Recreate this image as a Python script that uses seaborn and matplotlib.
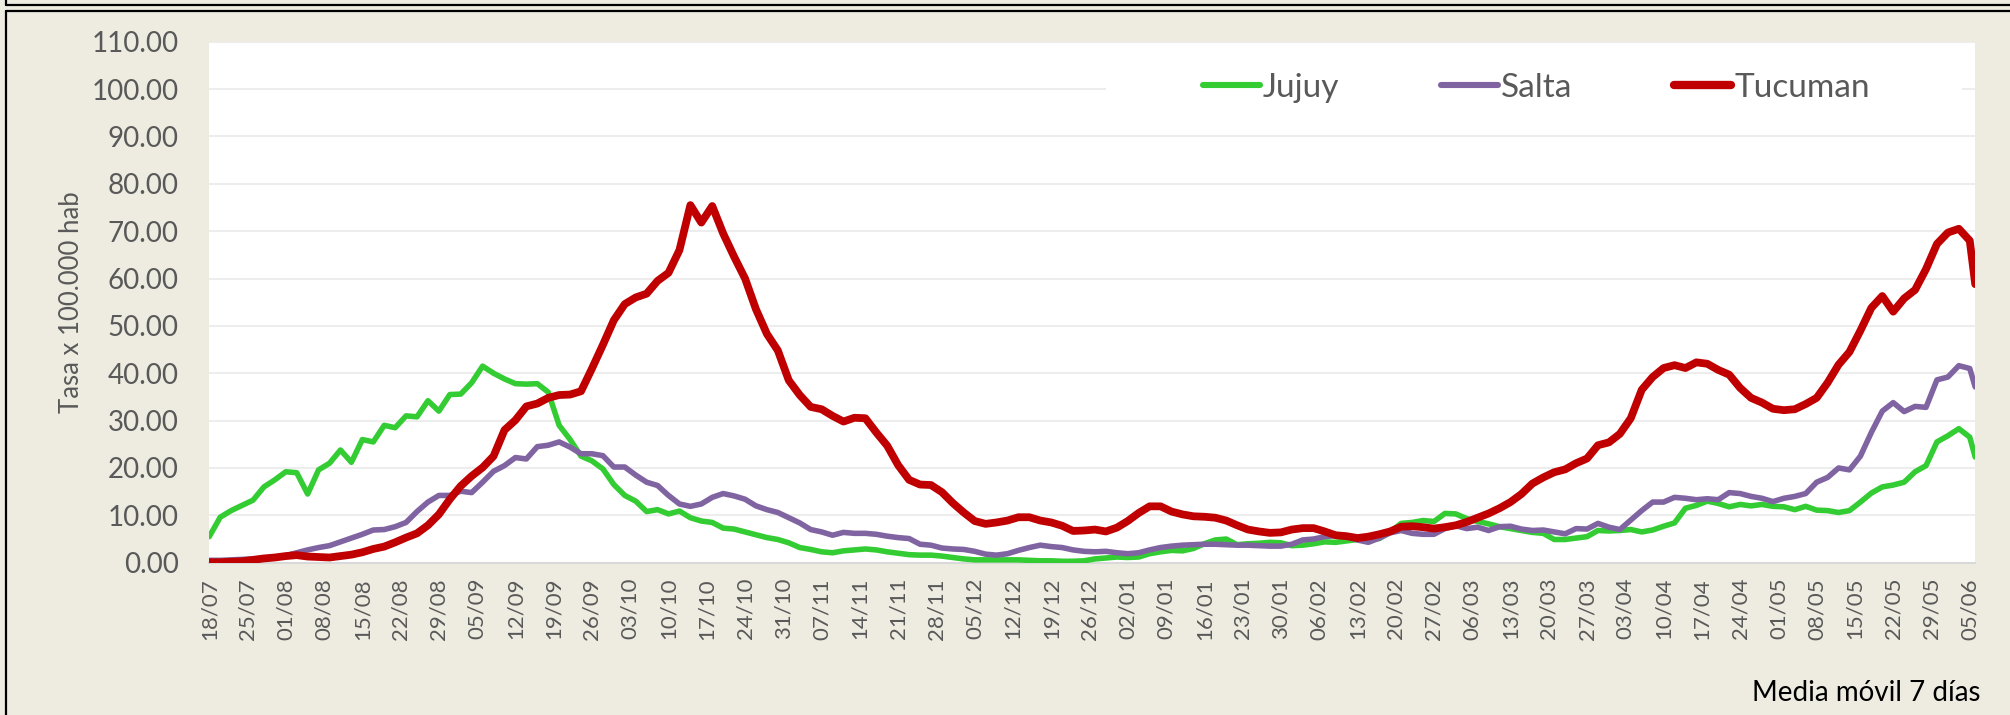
import numpy as np
import pandas as pd
import matplotlib.pyplot as plt
import matplotlib.dates as mdates
from matplotlib.lines import Line2D
from matplotlib.patches import Rectangle
from matplotlib.ticker import FormatStrFormatter
import seaborn as sns

# ---------------------------------------------------------------------
# Data: 7-day moving average, rate per 100.000 inhabitants (every 2 days)
# ---------------------------------------------------------------------
fechas = pd.date_range("2020-07-18", "2021-06-05", freq="2D").append(
    pd.DatetimeIndex(["2021-06-06"]))

jujuy = [5.5, 9.6, 11.0, 12.1, 13.2, 16.0, 17.5, 19.2, 19.0, 14.5,
         19.6, 21.0, 23.8, 21.2, 26.0, 25.5, 29.0, 28.5, 31.0, 30.8,
         34.2, 32.0, 35.5, 35.6, 38.0, 41.5, 40.0, 38.8, 37.8, 37.7,
         37.8, 36.0, 29.0, 26.0, 22.5, 21.5, 19.8, 16.5, 14.2, 13.0,
         10.8, 11.2, 10.3, 10.9, 9.5, 8.8, 8.5, 7.3, 7.1, 6.5,
         5.9, 5.3, 4.9, 4.2, 3.2, 2.8, 2.3, 2.1, 2.5, 2.7,
         2.9, 2.7, 2.3, 2.0, 1.7, 1.6, 1.6, 1.4, 1.1, 0.8,
         0.6, 0.6, 0.6, 0.6, 0.6, 0.5, 0.4, 0.4, 0.3, 0.3,
         0.4, 0.8, 1.0, 1.2, 1.1, 1.2, 1.9, 2.3, 2.6, 2.5,
         3.0, 4.0, 4.8, 5.0, 3.8, 4.0, 4.1, 4.3, 4.2, 3.6,
         3.7, 4.0, 4.4, 4.3, 4.6, 4.9, 4.8, 5.1, 6.5, 8.3,
         8.5, 8.9, 8.7, 10.4, 10.3, 9.3, 8.7, 8.2, 7.6, 7.2,
         6.8, 6.4, 6.2, 4.9, 4.9, 5.2, 5.5, 6.8, 6.7, 6.8,
         7.0, 6.5, 6.9, 7.7, 8.4, 11.5, 12.1, 13.0, 12.5, 11.8,
         12.3, 12.0, 12.3, 11.9, 11.8, 11.2, 11.9, 11.1, 11.0, 10.6,
         11.0, 12.8, 14.7, 16.0, 16.4, 17.0, 19.2, 20.5, 25.5, 26.8,
         28.3, 26.5, 22.3]

salta = [0.5, 0.5, 0.6, 0.7, 0.8, 0.8, 1.0, 1.5, 2.1, 2.7,
         3.2, 3.6, 4.4, 5.2, 6.0, 6.9, 7.0, 7.6, 8.5, 10.8,
         12.8, 14.2, 14.2, 15.1, 14.8, 17.0, 19.3, 20.5, 22.2, 21.9,
         24.5, 24.8, 25.5, 24.4, 23.0, 23.0, 22.6, 20.2, 20.2, 18.5,
         17.0, 16.3, 14.2, 12.4, 11.9, 12.4, 13.8, 14.6, 14.1, 13.4,
         12.0, 11.2, 10.6, 9.5, 8.4, 7.0, 6.5, 5.8, 6.4, 6.2,
         6.2, 6.0, 5.6, 5.3, 5.1, 3.9, 3.7, 3.1, 2.9, 2.8,
         2.4, 1.8, 1.6, 1.9, 2.6, 3.2, 3.7, 3.4, 3.2, 2.7,
         2.4, 2.3, 2.4, 2.1, 1.9, 2.1, 2.7, 3.2, 3.5, 3.7,
         3.8, 3.9, 3.9, 3.8, 3.7, 3.7, 3.6, 3.5, 3.5, 3.9,
         4.8, 5.0, 5.5, 5.7, 5.5, 4.8, 4.3, 5.2, 6.3, 6.8,
         6.2, 6.0, 6.0, 7.2, 7.8, 7.2, 7.5, 6.8, 7.6, 7.7,
         7.1, 6.8, 6.9, 6.5, 6.1, 7.2, 7.1, 8.3, 7.5, 7.0,
         9.0, 11.0, 12.8, 12.8, 13.8, 13.6, 13.3, 13.5, 13.3, 14.8,
         14.6, 14.0, 13.6, 12.9, 13.6, 14.0, 14.6, 17.0, 18.0, 20.0,
         19.6, 22.5, 27.5, 32.0, 33.8, 31.9, 33.0, 32.8, 38.6, 39.2,
         41.6, 41.0, 37.1]

tucuman = [0.1, 0.1, 0.2, 0.3, 0.6, 0.9, 1.1, 1.4, 1.6, 1.3,
           1.2, 1.1, 1.4, 1.7, 2.2, 2.9, 3.4, 4.3, 5.3, 6.2,
           7.9, 10.2, 13.4, 16.2, 18.3, 20.1, 22.5, 28.0, 30.1, 33.0,
           33.6, 34.8, 35.4, 35.5, 36.2, 41.0, 46.0, 51.2, 54.6, 56.0,
           56.8, 59.5, 61.2, 66.0, 75.5, 71.8, 75.3, 69.5, 64.6, 60.0,
           53.5, 48.3, 44.8, 38.5, 35.4, 32.9, 32.4, 31.0, 29.8, 30.6,
           30.5, 27.5, 24.7, 20.6, 17.5, 16.5, 16.4, 14.9, 12.6, 10.6,
           8.8, 8.2, 8.5, 8.9, 9.6, 9.6, 8.9, 8.5, 7.8, 6.7,
           6.8, 7.0, 6.6, 7.4, 8.8, 10.5, 11.9, 11.9, 10.8, 10.2,
           9.8, 9.7, 9.5, 8.9, 7.9, 7.0, 6.6, 6.3, 6.4, 7.0,
           7.3, 7.3, 6.6, 5.8, 5.6, 5.2, 5.5, 6.0, 6.6, 7.6,
           7.7, 7.5, 7.2, 7.5, 7.9, 8.6, 9.5, 10.4, 11.5, 12.8,
           14.5, 16.7, 18.0, 19.1, 19.7, 21.0, 22.0, 24.8, 25.4, 27.2,
           30.5, 36.5, 39.2, 41.1, 41.7, 41.1, 42.3, 42.0, 40.7, 39.7,
           36.9, 34.8, 33.8, 32.5, 32.2, 32.4, 33.5, 34.8, 38.0, 41.8,
           44.5, 49.0, 53.8, 56.3, 53.0, 55.8, 57.6, 62.0, 67.3, 69.7,
           70.5, 68.0, 58.8]

provincias = ["Jujuy", "Salta", "Tucuman"]
colores = {"Jujuy": "#33CC33", "Salta": "#8064A2", "Tucuman": "#C00000"}
grosores = {"Jujuy": 4.0, "Salta": 4.0, "Tucuman": 5.6}

df = pd.DataFrame({"fecha": fechas, "Jujuy": jujuy, "Salta": salta, "Tucuman": tucuman})
df_long = df.melt(id_vars="fecha", var_name="provincia", value_name="tasa")

# ---------------------------------------------------------------------
# Plot
# ---------------------------------------------------------------------
sns.set_style("white")
plt.rcParams['font.family'] = ['Lato', 'DejaVu Sans']

fondo = "#EEECE1"
gris = "#595959"

fig = plt.figure(figsize=(20.1, 7.15), dpi=100, facecolor=fondo)
ax = fig.add_axes([0.1041, 0.2130, 0.8786, 0.7287])
ax.set_facecolor("white")

for prov in provincias:
    sns.lineplot(data=df_long[df_long["provincia"] == prov], x="fecha", y="tasa",
                 color=colores[prov], lw=grosores[prov], ax=ax, legend=False,
                 solid_joinstyle="round", solid_capstyle="round", zorder=3)

ax.set_xlim(pd.Timestamp("2020-07-18"), pd.Timestamp("2021-06-06"))
ax.set_ylim(0, 110)
ax.set_yticks(np.arange(0, 111, 10))
ax.yaxis.set_major_formatter(FormatStrFormatter("%.2f"))

semanas = pd.date_range("2020-07-18", "2021-06-05", freq="7D")
ax.set_xticks(semanas)
ax.xaxis.set_major_formatter(mdates.DateFormatter("%d/%m"))

ax.set_axisbelow(True)
ax.yaxis.grid(True, color="#EDEDED", lw=1.5)
ax.xaxis.grid(False)
for s in ["top", "right", "left"]:
    ax.spines[s].set_visible(False)
ax.spines["bottom"].set_color("#D9D9D9")
ax.spines["bottom"].set_linewidth(1.5)

ax.tick_params(axis="x", length=6, width=1.5, color="#D9D9D9", pad=5,
               labelsize=16, labelcolor=gris, labelrotation=90)
ax.tick_params(axis="y", length=0, pad=22, labelsize=20, labelcolor=gris)

ax.set_xlabel("")
ax.set_ylabel("Tasa x 100.000 hab", fontsize=18.5, color=gris)
ax.yaxis.label.set_va("center")
ax.yaxis.set_label_coords(-0.078, 0.5)

# legend on a white band
ax.add_patch(Rectangle((0.508, 0.85), 0.4846, 0.125, transform=ax.transAxes,
                       facecolor="white", edgecolor="none", zorder=1))
handles = [Line2D([0], [0], color=colores[p], lw=grosores[p] + 0.4,
                  solid_capstyle="round") for p in provincias]
ax.legend(handles, provincias, loc="center", bbox_to_anchor=(0.7515, 0.9117),
          ncol=3, frameon=False, fontsize=24, handlelength=1.7,
          handletextpad=0.1, columnspacing=3.05, labelcolor=gris)

fig.text(1980 / 2010, 1 - 693 / 715, "Media móvil 7 días", ha="right",
         va="center", fontsize=20, color="black")

# panel borders
W, H = 2010, 715
def linea(x0, y0, x1, y1):
    fig.add_artist(Line2D([x0 / W, x1 / W], [1 - y0 / H, 1 - y1 / H],
                          transform=fig.transFigure, color="black", lw=1.6))

linea(6, 0, 6, 5)
linea(6, 5, W, 5)
linea(6, 11, W, 11)
linea(6, 11, 6, H)

fig.savefig("out.png", dpi=100, facecolor=fig.get_facecolor())
